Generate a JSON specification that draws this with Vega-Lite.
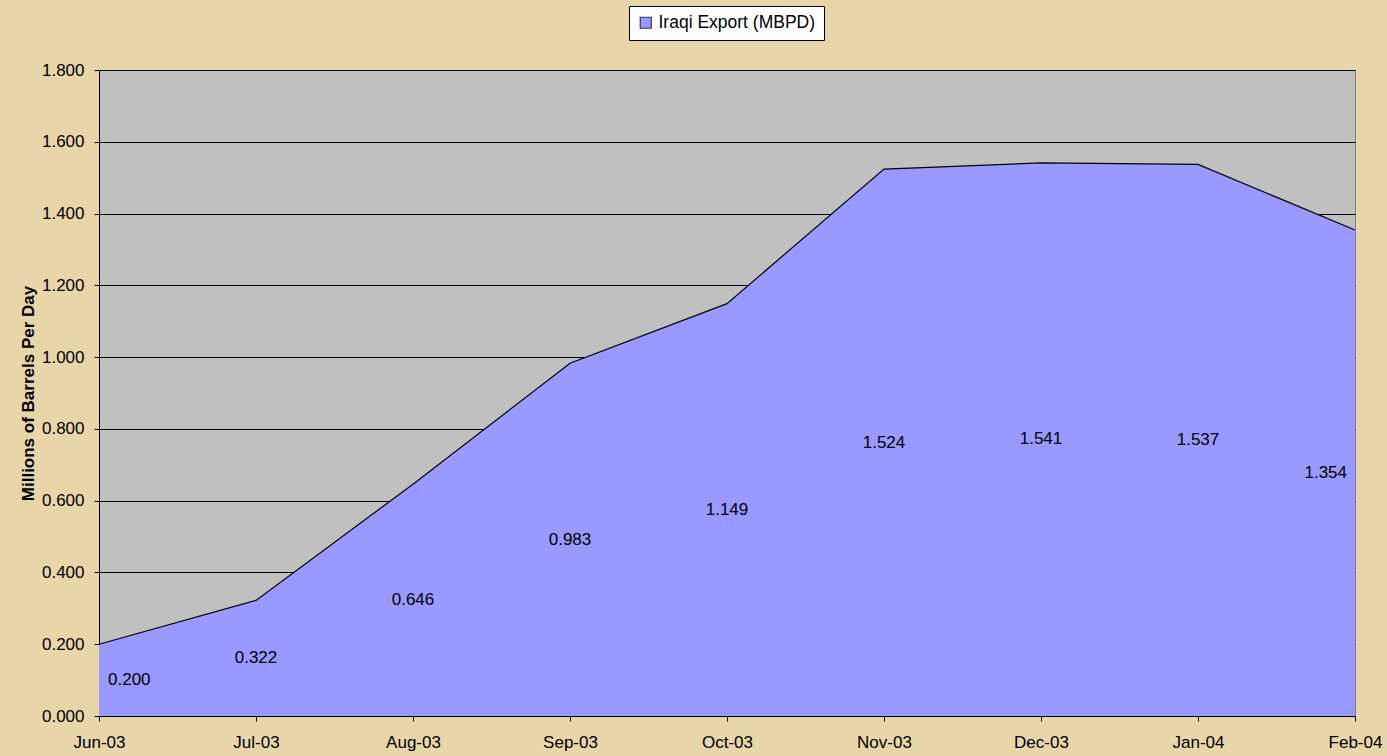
{
  "$schema": "https://vega.github.io/schema/vega-lite/v6.json",
  "autosize": "none",
  "width": 1256,
  "height": 646,
  "padding": {"left": 99, "top": 70, "right": 32, "bottom": 40},
  "background": "#E9D5AA",
  "config": {
    "font": "Liberation Sans",
    "view": {"fill": "#C0C0C0", "stroke": "#808080", "strokeWidth": 1}
  },
  "data": {
    "values": [
      {"month": "Jun-03", "value": 0.200},
      {"month": "Jul-03", "value": 0.322},
      {"month": "Aug-03", "value": 0.646},
      {"month": "Sep-03", "value": 0.983},
      {"month": "Oct-03", "value": 1.149},
      {"month": "Nov-03", "value": 1.524},
      {"month": "Dec-03", "value": 1.541},
      {"month": "Jan-04", "value": 1.537},
      {"month": "Feb-04", "value": 1.354}
    ]
  },
  "layer": [
    {
      "mark": {"type": "area", "clip": true},
      "encoding": {
        "x": {
          "field": "month", "type": "ordinal", "sort": null,
          "scale": {"type": "point", "padding": 0},
          "axis": {
            "title": null, "labelAngle": 0, "labelFontSize": 17, "labelColor": "#000000",
            "domainColor": "#000000", "tickColor": "#000000", "tickSize": 5, "labelPadding": 13,
            "grid": false
          }
        },
        "y": {
          "field": "value", "type": "quantitative",
          "scale": {"domain": [0, 1.8], "nice": false},
          "axis": {
            "title": "Millions of Barrels Per Day", "titleFontSize": 17, "titleFontWeight": "bold",
            "titleColor": "#000000", "titleX": -71, "titleY": 323, "titleAngle": -90,
            "titleAlign": "center", "titleBaseline": "middle",
            "values": [0, 0.2, 0.4, 0.6, 0.8, 1.0, 1.2, 1.4, 1.6, 1.8],
            "format": ".3f", "labelFontSize": 17, "labelColor": "#000000", "labelPadding": 10,
            "domainColor": "#000000", "tickColor": "#000000", "tickSize": 5,
            "grid": true, "gridColor": "#000000", "gridOpacity": 1, "gridWidth": 1
          }
        },
        "color": {
          "datum": "Iraqi Export (MBPD)",
          "scale": {"range": ["#9999FF"]},
          "legend": {
            "title": null, "orient": "none", "legendX": 530, "legendY": -64,
            "fillColor": "#FFFFFF", "strokeColor": "#000000", "padding": 8,
            "symbolType": "square", "symbolSize": 121, "symbolStrokeColor": "#333366",
            "symbolStrokeWidth": 1.2, "labelFontSize": 17.5, "labelLimit": 400,
            "labelColor": "#000000", "labelOffset": 4
          }
        },
        "opacity": {"value": 1}
      }
    },
    {
      "mark": {"type": "line", "color": "#000000", "strokeWidth": 1.2},
      "encoding": {
        "x": {"field": "month", "type": "ordinal", "sort": null},
        "y": {"field": "value", "type": "quantitative", "scale": {"domain": [0, 1.8], "nice": false}, "axis": null}
      }
    },
    {
      "transform": [{"filter": "datum.month !== 'Jun-03' && datum.month !== 'Feb-04'"}],
      "mark": {"type": "text", "fontSize": 17, "color": "#000000", "baseline": "middle", "align": "center"},
      "encoding": {
        "x": {"field": "month", "type": "ordinal", "sort": null},
        "y": {"field": "value", "type": "quantitative", "scale": {"domain": [0, 3.6], "nice": false}, "axis": null},
        "text": {"field": "value", "type": "quantitative", "format": ".3f"}
      }
    },
    {
      "transform": [{"filter": "datum.month === 'Jun-03'"}],
      "mark": {"type": "text", "fontSize": 17, "color": "#000000", "baseline": "middle", "align": "left", "dx": 9},
      "encoding": {
        "x": {"field": "month", "type": "ordinal", "sort": null},
        "y": {"field": "value", "type": "quantitative", "scale": {"domain": [0, 3.6], "nice": false}, "axis": null},
        "text": {"field": "value", "type": "quantitative", "format": ".3f"}
      }
    },
    {
      "transform": [{"filter": "datum.month === 'Feb-04'"}],
      "mark": {"type": "text", "fontSize": 17, "color": "#000000", "baseline": "middle", "align": "right", "dx": -8},
      "encoding": {
        "x": {"field": "month", "type": "ordinal", "sort": null},
        "y": {"field": "value", "type": "quantitative", "scale": {"domain": [0, 3.6], "nice": false}, "axis": null},
        "text": {"field": "value", "type": "quantitative", "format": ".3f"}
      }
    }
  ],
  "resolve": {"scale": {"y": "independent"}}
}
